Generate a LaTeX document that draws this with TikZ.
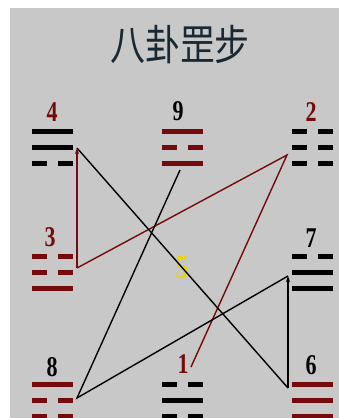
\documentclass[tikz,border=0pt]{standalone}
\usepackage{fontspec}
\setmainfont{Liberation Serif}
\newfontfamily\cjk{Noto Sans CJK SC}
\usetikzlibrary{arrows.meta}
\definecolor{bg}{RGB}{200,200,200}
\definecolor{dred}{RGB}{115,10,12}
\definecolor{ttl}{RGB}{25,40,50}
\definecolor{yel}{RGB}{232,212,20}
\newcommand\trigram[4]{%
  \foreach \b [count=\i from 0] in {#4}{%
    \pgfmathsetmacro\yy{#2+16*\i}%
    \ifnum\b=1
      \draw[yaoline,#3] (#1,\yy) -- ++(41,0);
    \else
      \draw[yaoline,#3] (#1,\yy) -- ++(15,0) (#1+26,\yy) -- ++(15,0);
    \fi
  }}
\begin{document}
\begin{tikzpicture}[x=1pt,y=-1pt,
  yaoline/.style={line width=5pt},
  num/.style={font=\bfseries\fontsize{22}{22}\selectfont, yscale=1.3, transform shape, inner sep=0pt},
  route/.style={line width=1.4pt},
  arr/.style={-{Stealth[length=6pt,width=4pt]}}]
\fill[white] (0,0) rectangle (339,418);
\fill[bg] (10,8) rectangle (339,418);
\useasboundingbox (0,0) rectangle (339,418);
% title
\node[text=ttl, inner sep=0pt] (title) at (180,45) {\scalebox{1}[1.2]{\cjk\fontsize{35}{35}\selectfont 八卦罡步}};
% trigrams
\trigram{32}{131}{black}{1,1,0}
\trigram{162}{131}{dred}{1,0,1}
\trigram{292}{131}{black}{0,0,0}
\trigram{32}{256}{dred}{0,0,1}
\trigram{292}{256}{black}{0,1,1}
\trigram{32}{384}{dred}{1,0,0}
\trigram{162}{384}{black}{0,1,0}
\trigram{292}{384}{dred}{1,1,1}
% numbers
\node[num, text=dred] (n4) at (52,112) {4};
\node[num, text=black] (n9) at (178,111) {9};
\node[num, text=dred] (n2) at (311,112) {2};
\node[num, text=dred] (n3) at (50,237) {3};
\node[num, text=black] (n7) at (311,238) {7};
\node[num, text=black] (n8) at (52,367) {8};
\node[num, text=dred] (n1) at (183,364) {1};
\node[num, text=black] (n6) at (311,365) {6};
\node[num, text=yel, font=\bfseries\fontsize{26}{26}\selectfont] (n5) at (182,268) {5};
% route points
\coordinate (p1) at (191,367);
\coordinate (p2) at (287,155);
\coordinate (p3) at (77,268);
\coordinate (p4) at (77,148);
\coordinate (p6) at (288,388);
\coordinate (p7) at (288,276);
\coordinate (p8) at (77,398);
\coordinate (p9) at (180,170);
% route
\draw[route, dred] (p1) -- (p2) -- (p3);
\draw[route, dred, arr] (p3) -- (p4);
\draw[route, black] (p4) -- (p6);
\draw[route, black, arr] (p6) -- (p7);
\draw[route, black] (p7) -- (p8) -- (p9);
\end{tikzpicture}
\end{document}
